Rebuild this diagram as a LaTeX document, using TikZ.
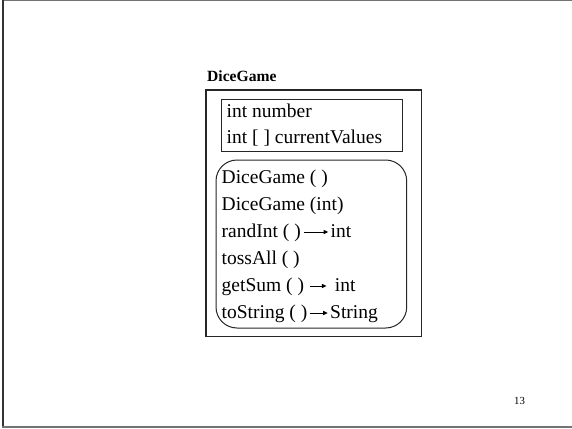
\documentclass[tikz,border=0pt]{standalone}
\usepackage{fontspec}
\setmainfont{Liberation Serif}
\usetikzlibrary{arrows.meta}

% small return-type arrow used inside the method signatures
\newcommand\retarr[1]{\tikz[baseline=-5pt]\draw[line width=0.9pt,-{Triangle[length=4.5pt,width=4pt]}] (0pt,0pt) -- (#1,0pt);}

\tikzset{
  boxline/.style={draw=black!85, line width=1.1pt},
  member/.style={anchor=base west, inner sep=0pt, font=\fontsize{19.5}{23}\selectfont},
  classname/.style={anchor=base west, inner sep=0pt, font=\fontsize{15.6}{18}\selectfont\bfseries},
  pagenum/.style={anchor=base west, inner sep=0pt, font=\fontsize{10.8}{12}\selectfont},
}

\begin{document}
\begin{tikzpicture}[x=1pt, y=-1pt]
\useasboundingbox (0,0) rectangle (572,428);

% slide frame (top, left and bottom edges)
\draw[black!55, line width=1.5pt] (572,0.75) -- (2.5,0.75);
\draw[black!80, line width=2pt] (2.5,0) -- (2.5,427);
\draw[black!55, line width=2pt] (1.5,426.5) -- (572,426.5);

% class name
\node[classname] (title) at (207,81) {DiceGame};

% class body, attribute and method compartments
\draw[boxline] (206,90) rectangle (421.5,336.5);
\draw[boxline, line width=1pt] (221.7,99.7) rectangle (402.3,151.7);
\draw[boxline, line width=1pt, rounded corners=21pt] (216,160) rectangle (406.7,328);

% attributes
\node[member] (a1) at (226.5,117) {int number};
\node[member] (a2) at (226.5,143) {int [ ] currentValues};

% methods
\node[member] (m1) at (221.5,183) {DiceGame ( )};
\node[member] (m2) at (221.5,210) {DiceGame (int)};
\node[member] (m3) at (221.5,237) {randInt ( )\hspace{3pt}\retarr{24pt}\hspace{2pt}int};
\node[member] (m4) at (221.5,264) {tossAll ( )};
\node[member] (m5) at (221.5,291) {getSum ( )\hspace{6pt}\retarr{16pt}\hspace{8pt}int};
\node[member] (m6) at (221.5,318) {toString ( )\hspace{2pt}\retarr{18pt}\hspace{2pt}String};

% slide number
\node[pagenum] (pg) at (514,404) {13};
\end{tikzpicture}
\end{document}
